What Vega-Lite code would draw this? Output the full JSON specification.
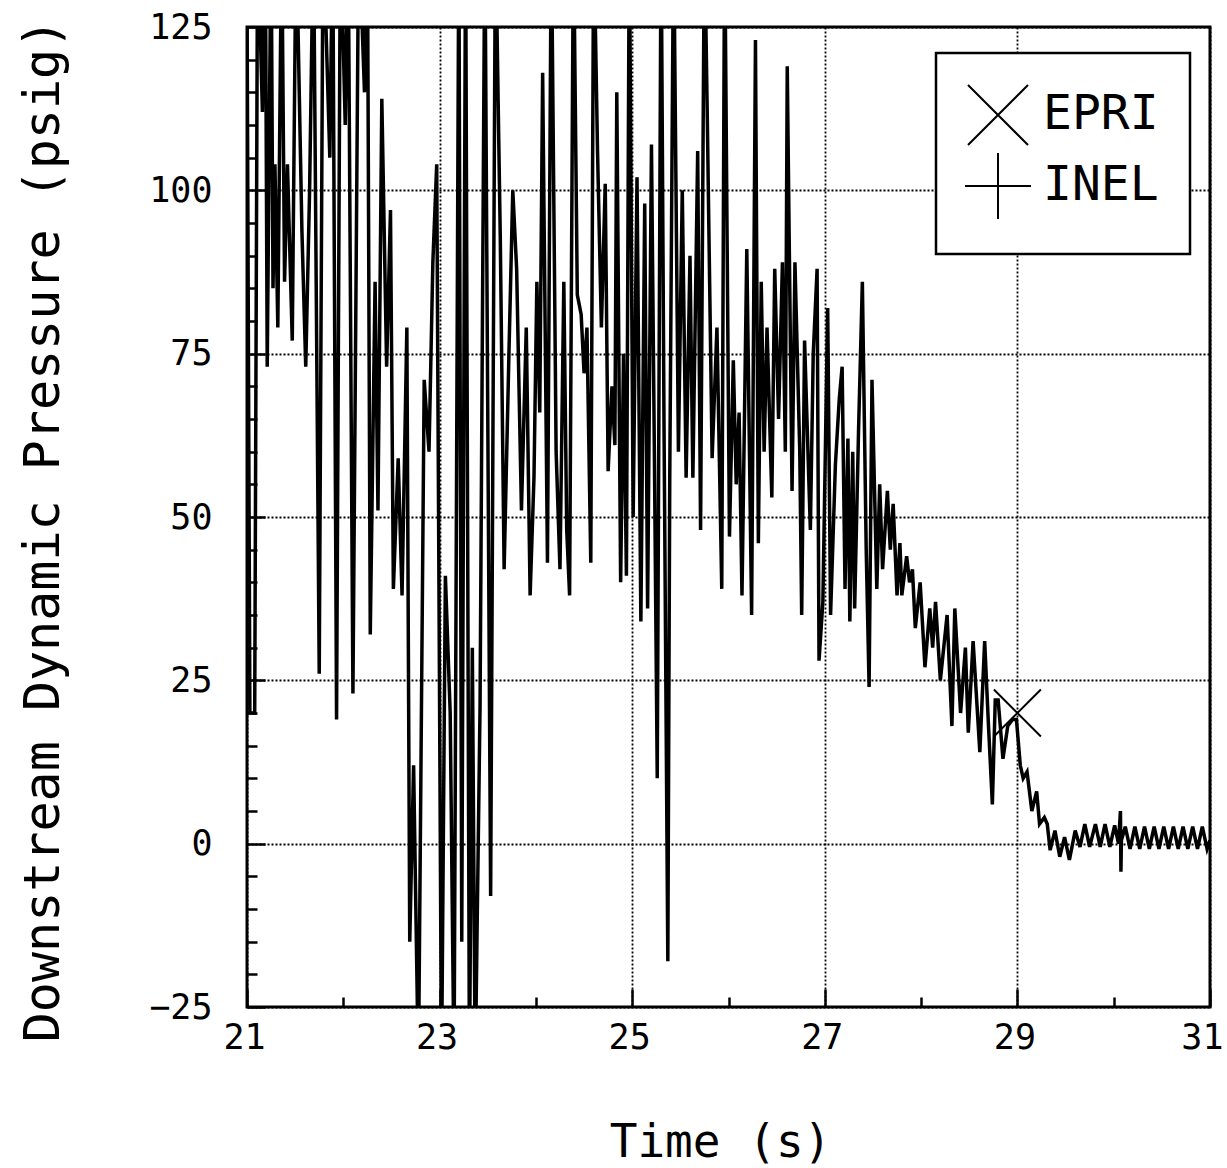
{
  "$schema": "https://vega.github.io/schema/vega-lite/v6.json",
  "width": 963,
  "height": 980,
  "autosize": {"type": "none"},
  "padding": {"left": 247, "top": 27, "right": 17, "bottom": 161},
  "background": "white",
  "config": {
    "view": {"stroke": "black", "strokeWidth": 3},
    "font": "DejaVu Sans Mono",
    "axis": {
      "labelFont": "DejaVu Sans Mono",
      "titleFont": "DejaVu Sans Mono",
      "labelColor": "black",
      "titleColor": "black",
      "titleFontWeight": "normal",
      "labelFontSize": 35,
      "titleFontSize": 47,
      "domain": false,
      "tickColor": "black",
      "tickWidth": 2.5,
      "gridColor": "black",
      "gridDash": [2, 2],
      "gridWidth": 1.8,
      "gridOpacity": 1,
      "labelFlush": false,
      "labelOverlap": false
    },
    "legend": {
      "orient": "none",
      "legendX": 689,
      "legendY": 26,
      "strokeColor": "black",
      "strokeWidth": 2.5,
      "fillColor": "white",
      "padding": 31,
      "symbolSize": 3600,
      "symbolStrokeWidth": 2,
      "symbolStrokeColor": "black",
      "symbolFillColor": "transparent",
      "labelFont": "DejaVu Sans Mono",
      "labelFontSize": 48,
      "labelColor": "black",
      "labelOffset": 14,
      "rowPadding": 0
    }
  },
  "datasets": {
    "inel": [
      {"t":21.00,"p":130},{"t":21.03,"p":20},{"t":21.08,"p":20},{"t":21.11,"p":140},{"t":21.16,"p":112},
      {"t":21.19,"p":140},{"t":21.21,"p":73},{"t":21.25,"p":140},{"t":21.27,"p":85},{"t":21.29,"p":104},
      {"t":21.32,"p":79},{"t":21.36,"p":140},{"t":21.39,"p":86},{"t":21.42,"p":104},{"t":21.47,"p":77},
      {"t":21.51,"p":140},{"t":21.57,"p":94},{"t":21.61,"p":73},{"t":21.65,"p":100},{"t":21.69,"p":140},
      {"t":21.75,"p":26},{"t":21.79,"p":140},{"t":21.86,"p":105},{"t":21.89,"p":140},{"t":21.93,"p":19},
      {"t":21.97,"p":140},{"t":22.02,"p":110},{"t":22.05,"p":140},{"t":22.10,"p":23},{"t":22.16,"p":140},
      {"t":22.22,"p":115},{"t":22.25,"p":140},{"t":22.28,"p":32},{"t":22.33,"p":86},{"t":22.36,"p":51},
      {"t":22.40,"p":114},{"t":22.45,"p":73},{"t":22.49,"p":97},{"t":22.52,"p":39},{"t":22.57,"p":59},
      {"t":22.61,"p":38},{"t":22.66,"p":79},{"t":22.69,"p":-15},{"t":22.73,"p":12},{"t":22.78,"p":-35},
      {"t":22.84,"p":71},{"t":22.89,"p":60},{"t":22.93,"p":89},{"t":22.97,"p":104},{"t":23.02,"p":-35},
      {"t":23.06,"p":41},{"t":23.11,"p":20},{"t":23.15,"p":-35},{"t":23.20,"p":140},{"t":23.23,"p":-15},
      {"t":23.27,"p":140},{"t":23.31,"p":-35},{"t":23.34,"p":30},{"t":23.37,"p":-35},{"t":23.42,"p":21},
      {"t":23.47,"p":140},{"t":23.53,"p":-8},{"t":23.58,"p":140},{"t":23.63,"p":93},{"t":23.67,"p":42},
      {"t":23.72,"p":75},{"t":23.76,"p":100},{"t":23.80,"p":88},{"t":23.85,"p":51},{"t":23.90,"p":79},
      {"t":23.94,"p":38},{"t":23.98,"p":56},{"t":24.01,"p":86},{"t":24.04,"p":66},{"t":24.07,"p":118},
      {"t":24.12,"p":43},{"t":24.16,"p":140},{"t":24.21,"p":60},{"t":24.25,"p":42},{"t":24.29,"p":86},
      {"t":24.32,"p":48},{"t":24.35,"p":38},{"t":24.39,"p":140},{"t":24.43,"p":84},{"t":24.47,"p":81},
      {"t":24.50,"p":72},{"t":24.53,"p":79},{"t":24.57,"p":43},{"t":24.60,"p":140},{"t":24.64,"p":106},
      {"t":24.68,"p":79},{"t":24.72,"p":101},{"t":24.75,"p":57},{"t":24.79,"p":70},{"t":24.82,"p":61},
      {"t":24.84,"p":115},{"t":24.88,"p":40},{"t":24.91,"p":75},{"t":24.94,"p":41},{"t":24.97,"p":140},
      {"t":25.01,"p":50},{"t":25.05,"p":102},{"t":25.09,"p":34},{"t":25.13,"p":98},{"t":25.16,"p":36},
      {"t":25.20,"p":107},{"t":25.23,"p":60},{"t":25.26,"p":10},{"t":25.30,"p":140},{"t":25.33,"p":65},
      {"t":25.37,"p":-18},{"t":25.39,"p":56},{"t":25.43,"p":140},{"t":25.48,"p":60},{"t":25.52,"p":100},
      {"t":25.56,"p":56},{"t":25.60,"p":90},{"t":25.63,"p":56},{"t":25.68,"p":106},{"t":25.71,"p":48},
      {"t":25.75,"p":140},{"t":25.78,"p":111},{"t":25.83,"p":59},{"t":25.88,"p":79},{"t":25.93,"p":39},
      {"t":25.96,"p":140},{"t":26.01,"p":47},{"t":26.05,"p":74},{"t":26.08,"p":55},{"t":26.11,"p":66},
      {"t":26.14,"p":38},{"t":26.19,"p":91},{"t":26.24,"p":35},{"t":26.28,"p":123},{"t":26.31,"p":46},
      {"t":26.34,"p":86},{"t":26.37,"p":60},{"t":26.40,"p":79},{"t":26.45,"p":53},{"t":26.48,"p":88},
      {"t":26.52,"p":65},{"t":26.56,"p":89},{"t":26.59,"p":60},{"t":26.61,"p":119},{"t":26.66,"p":54},
      {"t":26.69,"p":89},{"t":26.74,"p":60},{"t":26.76,"p":35},{"t":26.79,"p":77},{"t":26.85,"p":48},
      {"t":26.88,"p":75},{"t":26.92,"p":88},{"t":26.94,"p":28},{"t":26.98,"p":37},{"t":27.03,"p":82},
      {"t":27.06,"p":35},{"t":27.11,"p":58},{"t":27.15,"p":68},{"t":27.18,"p":73},{"t":27.21,"p":39},
      {"t":27.24,"p":62},{"t":27.26,"p":34},{"t":27.29,"p":60},{"t":27.31,"p":36},{"t":27.35,"p":63},
      {"t":27.39,"p":86},{"t":27.43,"p":45},{"t":27.46,"p":24},{"t":27.49,"p":71},{"t":27.54,"p":39},
      {"t":27.57,"p":55},{"t":27.60,"p":42},{"t":27.65,"p":54},{"t":27.68,"p":45},{"t":27.71,"p":52},
      {"t":27.75,"p":38},{"t":27.78,"p":46},{"t":27.80,"p":38},{"t":27.85,"p":44},{"t":27.88,"p":40},
      {"t":27.91,"p":42},{"t":27.94,"p":33},{"t":27.99,"p":40},{"t":28.04,"p":27},{"t":28.09,"p":36},
      {"t":28.12,"p":30},{"t":28.15,"p":37},{"t":28.20,"p":25},{"t":28.27,"p":35},{"t":28.32,"p":18},
      {"t":28.35,"p":36},{"t":28.41,"p":20},{"t":28.46,"p":30},{"t":28.49,"p":17},{"t":28.54,"p":31},
      {"t":28.61,"p":14},{"t":28.66,"p":31},{"t":28.70,"p":18},{"t":28.74,"p":6},{"t":28.77,"p":22},
      {"t":28.80,"p":22},{"t":28.85,"p":13},{"t":28.90,"p":18},{"t":28.95,"p":19},{"t":28.99,"p":19},
      {"t":29.03,"p":12},{"t":29.06,"p":10},{"t":29.10,"p":11},{"t":29.15,"p":5},{"t":29.20,"p":8},
      {"t":29.23,"p":3},{"t":29.28,"p":4},{"t":29.31,"p":3},{"t":29.34,"p":-1},{"t":29.39,"p":2},
      {"t":29.44,"p":-2},{"t":29.49,"p":1},{"t":29.54,"p":-2.5},{"t":29.60,"p":2},{"t":29.65,"p":-0.5},
      {"t":29.70,"p":3},{"t":29.75,"p":-0.5},{"t":29.81,"p":3},{"t":29.86,"p":-0.5},{"t":29.91,"p":3},
      {"t":29.96,"p":-0.5},{"t":30.01,"p":2.8},{"t":30.05,"p":0},{"t":30.07,"p":5},{"t":30.075,"p":-4.3},
      {"t":30.08,"p":0.5},{"t":30.12,"p":2.6},{"t":30.17,"p":-0.8},{"t":30.22,"p":2.6},{"t":30.27,"p":-0.8},
      {"t":30.32,"p":2.6},{"t":30.37,"p":-0.8},{"t":30.42,"p":2.6},{"t":30.47,"p":-0.8},{"t":30.52,"p":2.6},
      {"t":30.57,"p":-0.8},{"t":30.62,"p":2.6},{"t":30.67,"p":-0.8},{"t":30.72,"p":2.6},{"t":30.77,"p":-0.8},
      {"t":30.82,"p":2.6},{"t":30.87,"p":-0.8},{"t":30.92,"p":2.6},{"t":30.97,"p":-0.8},{"t":31.00,"p":0.5}
    ],
    "epri": [
      {"t": 29.0, "p": 20, "source": "EPRI"}
    ]
  },
  "layer": [
    {
      "data": {"name": "inel"},
      "mark": {"type": "line", "color": "black", "strokeWidth": 3.5, "clip": true},
      "encoding": {
        "x": {
          "field": "t", "type": "quantitative",
          "scale": {"domain": [21, 31], "nice": false, "zero": false},
          "axis": {
            "orient": "bottom",
            "values": [21, 23, 25, 27, 29, 31],
            "grid": true,
            "tickSize": -18,
            "labelPadding": 31,
            "labelAlign": {"condition": {"test": "datum.value == 31", "value": "right"}, "value": "center"},
            "labelOffset": {"condition": {"test": "datum.value == 31", "value": 13}, "value": -3},
            "title": "Time (s)",
            "titleFontSize": 46,
            "titleX": 473,
            "titleY": 135,
            "titleAlign": "center",
            "titleBaseline": "middle"
          }
        },
        "y": {
          "field": "p", "type": "quantitative",
          "scale": {"domain": [-25, 125], "nice": false, "zero": false},
          "axis": {
            "orient": "left",
            "values": [-25, 0, 25, 50, 75, 100, 125],
            "grid": true,
            "tickSize": -18,
            "labelPadding": 53,
            "labelBaseline": "middle",
            "title": "Downstream Dynamic Pressure (psig)",
            "titleFontSize": 50,
            "titleX": -204,
            "titleY": 503,
            "titleAlign": "center",
            "titleBaseline": "middle",
            "titleAngle": -90
          }
        }
      }
    },
    {
      "data": {"name": "epri"},
      "mark": {"type": "point", "filled": false, "color": "black", "strokeWidth": 2, "size": 2209, "opacity": 1},
      "encoding": {
        "x": {
          "field": "t", "type": "quantitative",
          "axis": {"orient": "bottom", "values": [22, 24, 26, 28, 30], "labels": false, "grid": false, "tickSize": -10, "title": null}
        },
        "y": {
          "field": "p", "type": "quantitative",
          "axis": {"orient": "left", "values": [-20, -15, -10, -5, 5, 10, 15, 20, 30, 35, 40, 45, 55, 60, 65, 70, 80, 85, 90, 95, 105, 110, 115, 120], "labels": false, "grid": false, "tickSize": -10, "title": null}
        },
        "shape": {
          "field": "source", "type": "nominal",
          "scale": {"domain": ["EPRI", "INEL"], "range": ["M-1,-1L1,1M1,-1L-1,1", "M-1.1,0L1.1,0M0,-1.1L0,1.1"]},
          "legend": {"title": null}
        }
      }
    }
  ],
  "resolve": {"axis": {"x": "independent", "y": "independent"}}
}
